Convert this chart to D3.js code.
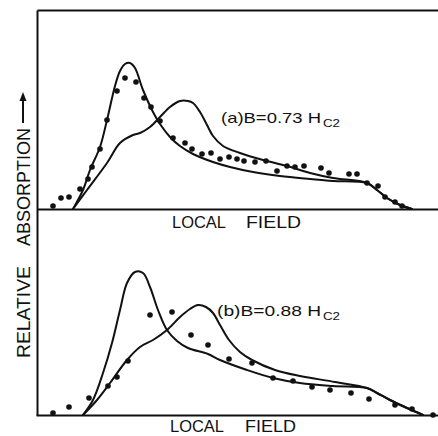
<!DOCTYPE html>
<html>
<head>
<meta charset="utf-8">
<script src="https://cdn.jsdelivr.net/npm/d3@7"></script>
<style>
    html, body { margin: 0; padding: 0; background: #fff; }
    svg { display: block; }
    .curve { fill: none; stroke: #111; stroke-width: 2; stroke-linejoin: round; stroke-linecap: round; }
    .frame path.domain { stroke: #111; stroke-width: 2; }
    text { font-family: "Liberation Sans", Arial, sans-serif; fill: #111; }
</style>
</head>
<body>
<svg id="chart" width="438" height="436"></svg>
<script>
/* data: [local field, relative absorption] */
// (a) B = 0.73 Hc2
const sharpA = [[9, 0], [11.5, 9.5], [13.25, 19.5], [15.75, 31], [17.5, 44.5], [19.5, 61.5], [20.75, 69], [22, 72.5],
    [23.25, 73], [24.5, 70.5], [26.5, 59.5], [29, 48.5], [30.75, 42.5], [33.25, 36], [35.75, 31.5], [39, 27.5],
    [44, 23.5], [48.25, 21], [54, 18.5], [60.75, 16.5], [68.25, 15], [74, 14], [82.5, 13], [85, 9.5], [87.5, 5.5],
    [90.75, 2], [93.75, 0]];
const broadA = [[9, 0], [12.5, 9.5], [17.5, 23], [20.75, 33], [24, 37], [25.75, 38], [28.25, 41], [30.75, 46],
    [33.25, 51], [35.75, 54], [37.75, 54], [39, 53], [40.75, 48.5], [42.5, 42], [44, 36.5], [46.5, 31.5],
    [50.75, 28], [56.5, 24.5], [62.5, 21.5], [68.25, 18], [74, 15.5], [82.5, 13], [85, 9.5], [87.5, 5.5],
    [90.75, 2], [93.75, 0]];
const pointsA = [[4, 1.5], [6, 5.5], [8, 6], [10.75, 10], [12.75, 15], [13.75, 21], [15.75, 30], [17.5, 44.5],
    [20, 59], [22, 65.5], [24.75, 63.5], [26.75, 55.5], [28.5, 51], [30.75, 44], [34, 35.5], [37, 33],
    [38.75, 30], [41.25, 27.5], [43.5, 28], [45.75, 25], [48, 26], [50, 25], [51.75, 24], [54.5, 23.5],
    [57.25, 24], [60, 19], [62.5, 21.5], [64.5, 21], [66.75, 21.5], [71, 20.5], [73, 18], [78, 17.5],
    [80, 17.5], [82.5, 13], [85.25, 11.5], [87, 6], [89.5, 3.5], [91.25, 1.5]];

// (b) B = 0.88 Hc2
const sharpB = [[11.5, 0], [14, 7.5], [16.5, 21], [18.75, 36], [20.75, 52.5], [22.5, 66], [24.5, 71.5],
    [26.5, 71], [28.25, 64], [30.25, 52.5], [32.5, 42.5], [35, 37], [37.75, 33.5], [42.75, 30.5], [45.75, 27.5],
    [52.5, 22.5], [59, 18.5], [65.75, 16], [74, 14.5], [82.5, 13.5], [85, 11], [88.25, 7.5], [92.5, 3.5],
    [96.5, 0]];
const broadB = [[11.5, 0], [15, 7.5], [18.25, 16], [22.5, 27.5], [25.75, 34], [29, 37.5], [32.5, 42.5],
    [35.75, 49], [38.25, 53], [40.25, 55], [42.25, 54], [44, 51], [45.75, 45], [48, 37.5], [50.75, 31.5],
    [53.75, 27.5], [59.5, 22.5], [65.75, 19.5], [74.5, 16.5], [82.5, 13.5], [85, 11], [88.25, 7.5],
    [92.5, 3.5], [96.5, 0]];
const pointsB = [[4, 1], [8, 4], [13, 8.5], [17.75, 14.5], [20, 19], [22.75, 27], [28.25, 50], [33.75, 51.5],
    [38.5, 40], [42.75, 35], [48, 28], [53.75, 26], [59, 18.5], [64, 17], [68.75, 14], [73.25, 12.5],
    [78.5, 11], [83, 8], [89.5, 5], [93.75, 3], [99, 0]];

const xLabel = ['LOCAL', 'FIELD'];
const yLabel = ['RELATIVE', 'ABSORPTION'];

/* scales */
const svg = d3.select('#chart');
const x = d3.scaleLinear().domain([0, 100]).range([37, 437]);
const yTop = d3.scaleLinear().domain([0, 100]).range([209, 9]);
const yBot = d3.scaleLinear().domain([0, 100]).range([415, 215]);
const yAll = d3.scaleLinear().domain([0, 1]).range([415, 10]);

/* frame: left side, top edge, two baselines */
svg.append('g').attr('class', 'frame').attr('transform', 'translate(0,10)')
    .call(d3.axisTop(d3.scaleLinear().domain([0, 1]).range([37, 438])).ticks(0).tickSizeOuter(0));
svg.append('g').attr('class', 'frame').attr('transform', 'translate(37,0)')
    .call(d3.axisLeft(yAll).ticks(0).tickSizeOuter(0));
svg.append('g').attr('class', 'frame').attr('transform', 'translate(0,209)')
    .call(d3.axisBottom(d3.scaleLinear().domain([0, 1]).range([37, 438])).ticks(0).tickSizeOuter(0));
svg.append('g').attr('class', 'frame').attr('transform', 'translate(0,415)')
    .call(d3.axisBottom(d3.scaleLinear().domain([0, 1]).range([36, 438])).ticks(0).tickSizeOuter(0));

/**
 * 画一个面板：两条曲线加实验点
 */
function drawPanel(y, curves, points) {
    let line = d3.line().x(d => x(d[0])).y(d => y(d[1])).curve(d3.curveCatmullRom.alpha(0.5));
    let g = svg.append('g');
    curves.forEach(c => {
        g.append('path').datum(c).attr('class', 'curve').attr('d', line);
    });
    g.selectAll('circle').data(points).enter().append('circle')
        .attr('cx', d => x(d[0])).attr('cy', d => y(d[1])).attr('r', 2.8).attr('fill', '#111');
}

drawPanel(yTop, [sharpA, broadA], pointsA);
drawPanel(yBot, [sharpB, broadB], pointsB);

/* panel labels */
function panelLabel(text, x0, base, len) {
    svg.append('text').attr('x', x0).attr('y', base).attr('font-size', 15)
        .attr('textLength', len).attr('lengthAdjust', 'spacingAndGlyphs').text(text);
    svg.append('text').attr('x', x0 + len + 2).attr('y', base + 4).attr('font-size', 10.5)
        .attr('textLength', 17).attr('lengthAdjust', 'spacingAndGlyphs').text('C2');
}
panelLabel('(a)B=0.73 H', 221, 123, 100);
panelLabel('(b)B=0.88 H', 217, 316, 104);

/* x labels */
[[172, 246, 228, 55], [170, 245, 432, 51]].forEach(p => {
    svg.append('text').attr('x', p[0]).attr('y', p[2]).attr('font-size', 17)
        .attr('textLength', 54).attr('lengthAdjust', 'spacingAndGlyphs').text(xLabel[0]);
    svg.append('text').attr('x', p[1]).attr('y', p[2]).attr('font-size', 17)
        .attr('textLength', p[3]).attr('lengthAdjust', 'spacingAndGlyphs').text(xLabel[1]);
});

/* y label with arrow */
let yl = svg.append('g').attr('transform', 'translate(30,0) rotate(-90)');
yl.append('text').attr('x', -358).attr('y', 0).attr('font-size', 19)
    .attr('textLength', 92).attr('lengthAdjust', 'spacingAndGlyphs').text(yLabel[0]);
yl.append('text').attr('x', -246).attr('y', 0).attr('font-size', 19)
    .attr('textLength', 118).attr('lengthAdjust', 'spacingAndGlyphs').text(yLabel[1]);
svg.append('line').attr('x1', 23).attr('x2', 23).attr('y1', 123).attr('y2', 99)
    .attr('stroke', '#111').attr('stroke-width', 2);
svg.append('path').attr('d', 'M23,92 L19.5,101 L26.5,101 Z').attr('fill', '#111');
</script>
</body>
</html>
